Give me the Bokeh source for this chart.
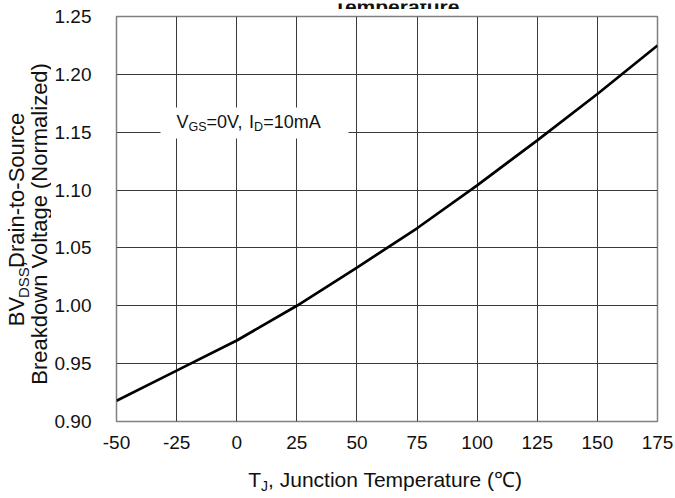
import math
from bokeh.plotting import figure
from bokeh.layouts import column, row
from bokeh.models import Label, BoxAnnotation, FixedTicker, NumeralTickFormatter, Range1d
from bokeh.embed import file_html
from bokeh.resources import INLINE

# ---- data ----
temperature_c = [-50, -25, 0, 25, 50, 75, 100, 125, 150, 175]
bv_dss_norm = [0.918, 0.944, 0.970, 1.000, 1.033, 1.067, 1.104, 1.143, 1.183, 1.225]
x_ticks = [-50, -25, 0, 25, 50, 75, 100, 125, 150, 175]
y_ticks = [0.90, 0.95, 1.00, 1.05, 1.10, 1.15, 1.20, 1.25]

# ---- layout (canvas pixels) ----
W, H = 675, 498
TOP_H, BOT_H, LEFT_W = 9, 32, 51
FL, FR, FT, FB = 116, 18, 16, 77          # frame borders on the whole canvas
X0, X1, Y0, Y1 = -50, 175, 0.90, 1.25
FONT = "Liberation Sans"
INK = "#111111"
BASE_FIX = 0.34   # renderer places "alphabetic" text this many ems low
MID = 0.35        # em height of the middle of the text above its baseline
VSHIFT = 20       # measured drift of rotated text in this renderer

MAIN_W = W - LEFT_W
MAIN_H = H - TOP_H - BOT_H

p = figure(width=MAIN_W, height=MAIN_H, output_backend="svg", toolbar_location=None,
           x_range=Range1d(X0, X1), y_range=Range1d(Y0, Y1),
           min_border_left=FL - LEFT_W, min_border_right=FR,
           min_border_top=FT - TOP_H, min_border_bottom=FB - BOT_H)
p.background_fill_color = "white"
p.border_fill_color = "white"
p.outline_line_color = "#808080"
p.outline_line_width = 1.5

for ax in (p.xaxis[0], p.yaxis[0]):
    ax.axis_line_color = None
    ax.major_tick_line_color = None
    ax.minor_tick_line_color = None
    ax.major_tick_in = 0
    ax.major_tick_out = 0
    ax.minor_tick_in = 0
    ax.minor_tick_out = 0
    ax.major_label_text_font = FONT
    ax.major_label_text_font_size = "19px"
    ax.major_label_text_color = INK

p.xaxis.ticker = FixedTicker(ticks=x_ticks)
p.xaxis.major_label_overrides = {t: str(t) for t in x_ticks}
p.yaxis.ticker = FixedTicker(ticks=y_ticks)
p.yaxis.formatter = NumeralTickFormatter(format="0.00")
p.xaxis.major_label_standoff = 14
p.yaxis.major_label_standoff = 25

p.xgrid.ticker = FixedTicker(ticks=x_ticks)
p.ygrid.ticker = FixedTicker(ticks=y_ticks)
for g in (p.xgrid[0], p.ygrid[0]):
    g.grid_line_color = "#3a3a3a"
    g.grid_line_width = 1

p.line(temperature_c, bv_dss_norm, line_color="black", line_width=2.7)

# ---- text helpers ----
CW = {' ': 278, ',': 278, '-': 333, '.': 278, '(': 333, ')': 333, '=': 584,
      'A': 667, 'B': 667, 'C': 722, 'D': 722, 'G': 778, 'I': 278, 'J': 500,
      'N': 722, 'S': 667, 'T': 611, 'V': 667, 'a': 556, 'c': 500, 'd': 556,
      'e': 556, 'g': 556, 'i': 222, 'k': 500, 'l': 222, 'm': 833, 'n': 556,
      'o': 556, 'p': 556, 'r': 333, 't': 278, 'u': 556, 'w': 722, 'z': 500,
      '\u2103': 1000}
for d in "0123456789":
    CW[d] = 556


def tw(s, size):
    return sum(CW.get(c, 556) for c in s) * size / 1000.0


def strip(w, h):
    """A blank, axis-free figure whose data coordinates are its own pixels (y down)."""
    f = figure(width=w, height=h, output_backend="svg", toolbar_location=None,
               x_range=Range1d(0, w), y_range=Range1d(h, 0),
               x_axis_type=None, y_axis_type=None,
               min_border=0, min_border_left=0, min_border_right=0,
               min_border_top=0, min_border_bottom=0)
    f.grid.visible = False
    f.outline_line_color = None
    f.background_fill_color = "white"
    f.border_fill_color = "white"
    return f


def hruns(fig, parts, px, py, ox=0, oy=0):
    """horizontal runs; parts: (text, size, baseline_drop); px, py = baseline start."""
    pos = 0.0
    for text, size, drop in parts:
        fig.add_layout(Label(x=px + pos - ox, y=py + drop - BASE_FIX * size - oy,
                             text=text, text_font=FONT, text_font_size=f"{size}px",
                             text_color=INK, text_align="left",
                             text_baseline="alphabetic"))
        pos += tw(text, size)


def vruns(fig, parts, bx, cy, ox=0, oy=0, gap=0.0):
    """upward-reading runs centred on cy; bx = baseline x on the canvas."""
    total = sum(tw(t, s) for t, s, _ in parts) + gap * (len(parts) - 1)
    start = cy + total / 2 + VSHIFT
    pos = 0.0
    for text, size, drop in parts:
        w = tw(text, size)
        fig.add_layout(Label(x=bx + drop - MID * size - ox, y=start - pos - w / 2 - oy,
                             text=text, angle=math.pi / 2, text_font=FONT,
                             text_font_size=f"{size}px", text_color=INK,
                             text_align="center", text_baseline="middle"))
        pos += w + gap


def fw(px):
    return X0 + (px - FL) / (W - FL - FR) * (X1 - X0)


def fh(py):
    return Y1 - (py - FT) / (H - FT - FB) * (Y1 - Y0)


# condition note on a white patch inside the plot
p.add_layout(BoxAnnotation(left=fw(160), right=fw(348), top=fh(107), bottom=fh(138),
                           fill_color="white", fill_alpha=1.0, line_color=None,
                           level="annotation"))
AX_PX, AY_PX = FL, H - FB
pos = 0.0
for text, size, drop in [("V", 18, 0), ("GS", 12.5, 3), ("=0V, ", 18, 0),
                         ("I", 18, 0), ("D", 12.5, 3), ("=10mA", 18, 0)]:
    p.add_layout(Label(x=X0, y=Y0, x_offset=176 + pos - AX_PX,
                       y_offset=AY_PX - (128 + drop - 0.36 * size), text=text,
                       text_font=FONT, text_font_size=f"{size}px", text_color=INK,
                       text_align="left", text_baseline="alphabetic"))
    pos += tw(text, size)

# top strip: title, cut by the top edge as in the reference
top = strip(W, TOP_H)
title_text = "Temperature"
top.add_layout(Label(x=396, y=10 - BASE_FIX * 21, text=title_text, text_font=FONT,
                     text_font_size="21px", text_font_style="bold",
                     text_color=INK, text_align="center",
                     text_baseline="alphabetic"))

# left strip: two-line rotated y title
left = strip(LEFT_W, MAIN_H)
vruns(left, [("BV", 22, 0), ("DSS", 15, 4), (",", 22, 0), ("Drain-to-Source", 22, 0)],
      24, 222, oy=TOP_H, gap=2.5)
vruns(left, [("Breakdown Voltage (Normalized)", 22, 0)], 47, 223, oy=TOP_H)

# bottom strip: x title
bot = strip(W, BOT_H)
xl = [("T", 21, 0), ("J", 14, 4), (", Junction Temperature (\u2103)", 21, 0)]
lenx = sum(tw(t, s) for t, s, _ in xl)
hruns(bot, xl, 386 - lenx / 2, 486, oy=H - BOT_H)

layout = column(top, row(left, p, spacing=0), bot, spacing=0)
open("out.html", "w").write(file_html(layout, INLINE))
